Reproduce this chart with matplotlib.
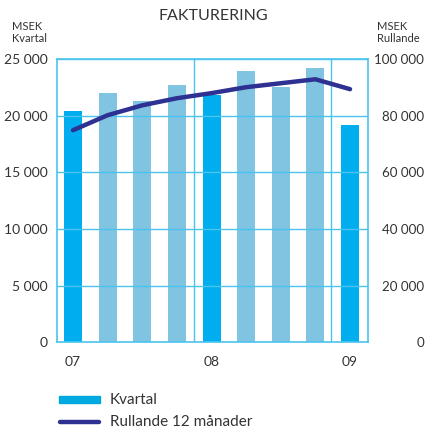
import matplotlib.pyplot as plt
import numpy as np

# quarterly invoicing, MSEK (left axis)
quarters = ["Q1 07", "Q2 07", "Q3 07", "Q4 07", "Q1 08", "Q2 08", "Q3 08", "Q4 08", "Q1 09"]
kvartal = [20400, 22000, 21300, 22700, 21800, 24000, 22500, 24200, 19200]
# rolling 12 months, MSEK (right axis)
rullande = [74900, 80200, 83700, 86200, 88000, 90100, 91500, 92900, 89400]
year_labels = ["07", "08", "09"]
year_pos = [0, 4, 8]

plt.rcParams['font.family'] = ['Lato', 'DejaVu Sans']
txt = '#333333'
grid_c = '#4cc3ee'

fig = plt.figure(figsize=(4.26, 4.32), dpi=100)
ax = fig.add_axes([0.134, 0.208, 0.730, 0.655])

x = np.arange(len(kvartal))
colors = ['#00aeef' if q.startswith('Q1') else '#80c4e2' for q in quarters]
ax.bar(x, kvartal, width=0.52, color=colors, zorder=2)

ax.set_ylim(0, 25000)
ax.set_xlim(-0.46, 8.52)
ax.set_yticks(np.arange(0, 25001, 5000))
ax.set_yticklabels([f"{v:,}".replace(",", " ") for v in range(0, 25001, 5000)])
ax.set_xticks(year_pos)
ax.set_xticklabels(year_labels)
ax.tick_params(length=0, labelsize=10, colors=txt, pad=7)
ax.tick_params(axis='x', pad=10)
for v in range(5000, 25001, 5000):
    ax.axhline(v, color=grid_c, lw=1, zorder=3)
for xv in [3.5, 7.45]:
    ax.axvline(xv, color=grid_c, lw=1, zorder=3)
for s in ax.spines.values():
    s.set_color(grid_c)
    s.set_linewidth(1.2)

ax2 = ax.twinx()
ax2.plot(x, rullande, color='#2e3192', lw=3.2, solid_capstyle='round', zorder=4)
ax2.set_ylim(0, 100000)
ax2.set_yticks(np.arange(0, 100001, 20000))
ax2.set_yticklabels([f"{v:,}".replace(",", " ") for v in range(0, 100001, 20000)])
ax2.tick_params(length=0, labelsize=9.6, colors=txt, pad=40.5)
for lab in ax2.get_yticklabels():
    lab.set_horizontalalignment('right')
for s in ax2.spines.values():
    s.set_visible(False)

fig.text(0.5, 0.962, "FAKTURERING", ha='center', va='center', fontsize=11.5, color=txt)
fig.text(0.028, 0.925, "MSEK\nKvartal", ha='left', va='center', fontsize=8, color=txt, linespacing=1.1)
fig.text(0.885, 0.925, "MSEK\nRullande", ha='left', va='center', fontsize=8, color=txt, linespacing=1.1)

# legend drawn by hand below the plot
fig.patches.append(plt.Rectangle((0.139, 0.066), 0.096, 0.018, transform=fig.transFigure,
                                 color='#00a9e0', figure=fig))
fig.lines.append(plt.Line2D([0.141, 0.233], [0.023, 0.023], transform=fig.transFigure,
                            color='#2e3192', lw=3.2, solid_capstyle='round', figure=fig))
fig.text(0.258, 0.075, "Kvartal", ha='left', va='center', fontsize=11, color=txt)
fig.text(0.258, 0.023, "Rullande 12 månader", ha='left', va='center', fontsize=11, color=txt)

fig.savefig("out.png", dpi=100)
